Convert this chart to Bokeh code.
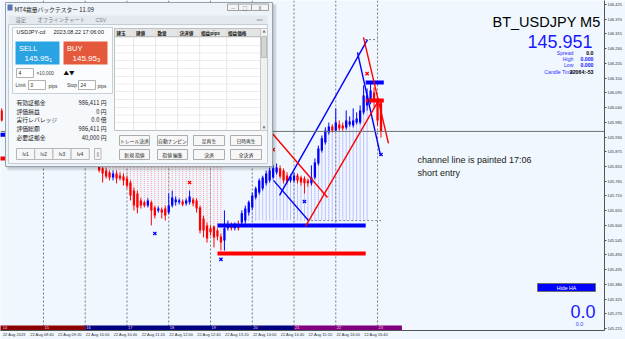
from bokeh.plotting import figure
from bokeh.models import (Range1d, LinearAxis, FixedTicker, PrintfTickFormatter, Span,
                          Label, BoxAnnotation, ColumnDataSource)
from bokeh.core.properties import value
from bokeh.embed import file_html
from bokeh.resources import INLINE

# ---------------- data (22 Aug 2023, USDJPY M5; time = minutes after 00:00) ----------------
bar_time = [480] + list(range(620, 1030, 5))
bar_open = [146.029,
    145.831, 145.813, 145.805, 145.798, 145.779, 145.794, 145.786, 145.783, 145.775, 145.760,
    145.730, 145.719, 145.693, 145.686, 145.674, 145.686, 145.667, 145.656, 145.659, 145.663,
    145.648, 145.674, 145.686, 145.686, 145.689, 145.682, 145.686, 145.697, 145.693, 145.667,
    145.626, 145.600, 145.589, 145.596, 145.581, 145.559, 145.544, 145.589, 145.596, 145.589,
    145.600, 145.611, 145.618, 145.648, 145.667, 145.704, 145.723, 145.738, 145.757, 145.768,
    145.779, 145.798, 145.813, 145.805, 145.786, 145.768, 145.768, 145.786, 145.779, 145.775,
    145.768, 145.757, 145.779, 145.831, 145.880, 145.910, 145.947, 145.969, 145.954, 145.977,
    145.973, 145.966, 145.977, 145.973, 145.984, 145.984, 146.022, 146.048, 146.066, 146.096,
    146.074, 146.059]
bar_high = [146.037,
    145.835, 145.824, 145.816, 145.805, 145.805, 145.805, 145.798, 145.794, 145.786, 145.768,
    145.742, 145.730, 145.704, 145.693, 145.701, 145.693, 145.674, 145.671, 145.667, 145.674,
    145.719, 145.730, 145.708, 145.701, 145.697, 145.701, 145.730, 145.704, 145.701, 145.674,
    145.637, 145.611, 145.600, 145.600, 145.589, 145.570, 145.656, 145.618, 145.611, 145.611,
    145.618, 145.656, 145.674, 145.693, 145.723, 145.745, 145.775, 145.786, 145.805, 145.816,
    145.824, 145.831, 145.824, 145.813, 145.798, 145.790, 145.798, 145.794, 145.786, 145.783,
    145.775, 145.824, 145.850, 145.898, 145.936, 145.966, 145.984, 145.977, 146.037, 145.992,
    145.984, 146.029, 146.007, 146.037, 146.022, 146.048, 146.123, 146.111, 146.130, 146.115,
    146.081, 146.066]
bar_low = [145.988,
    145.798, 145.760, 145.775, 145.768, 145.768, 145.757, 145.768, 145.749, 145.738, 145.693,
    145.656, 145.645, 145.663, 145.667, 145.667, 145.600, 145.626, 145.648, 145.626, 145.618,
    145.641, 145.667, 145.674, 145.678, 145.671, 145.674, 145.678, 145.671, 145.648, 145.570,
    145.555, 145.536, 145.562, 145.518, 145.544, 145.506, 145.506, 145.581, 145.581, 145.581,
    145.581, 145.600, 145.607, 145.637, 145.659, 145.697, 145.715, 145.730, 145.749, 145.760,
    145.772, 145.790, 145.775, 145.757, 145.753, 145.760, 145.760, 145.757, 145.749, 145.719,
    145.745, 145.749, 145.772, 145.824, 145.872, 145.902, 145.939, 145.947, 145.951, 145.954,
    145.954, 145.958, 145.969, 145.966, 145.977, 145.977, 146.014, 146.029, 146.052, 146.040,
    145.973, 145.928]
bar_close = [145.992,
    145.805, 145.794, 145.783, 145.779, 145.794, 145.775, 145.775, 145.768, 145.749, 145.712,
    145.674, 145.667, 145.674, 145.674, 145.693, 145.656, 145.637, 145.663, 145.648, 145.637,
    145.674, 145.704, 145.697, 145.693, 145.678, 145.693, 145.708, 145.682, 145.663, 145.581,
    145.581, 145.551, 145.574, 145.555, 145.559, 145.536, 145.589, 145.596, 145.589, 145.600,
    145.589, 145.645, 145.663, 145.686, 145.712, 145.738, 145.768, 145.779, 145.794, 145.805,
    145.813, 145.816, 145.783, 145.768, 145.764, 145.783, 145.786, 145.768, 145.760, 145.757,
    145.757, 145.779, 145.835, 145.887, 145.925, 145.954, 145.969, 145.954, 145.984, 145.962,
    145.962, 145.992, 145.988, 145.992, 145.999, 146.029, 146.085, 146.085, 146.104, 146.066,
    145.992, 145.951]

sell_zone_top = 145.900       # red dotted zone: from this level down to bar highs
buy_zone_floor = 145.618      # blue dotted zone: from bar lows down to this level

signal_time = [700, 750, 795, 870, 915, 1005, 1025]
signal_price = [145.570, 145.760, 145.473, 145.883, 145.689, 146.167, 145.865]
signal_side = ["buy", "sell", "buy", "sell", "buy", "sell", "buy"]

trend_t0 = [879.2, 991.2, 870.5, 916.5, 999.8, 859.0]
trend_p0 = [145.712, 146.246, 145.768, 145.596, 146.302, 145.973]
trend_t1 = [1005.6, 1024.3, 920.8, 1021.4, 1035.7, 948.1]
trend_p1 = [146.294, 145.861, 145.618, 146.066, 145.906, 145.704]
trend_side = ["buy", "buy", "buy", "sell", "sell", "sell"]

level_t0 = [790, 790, 1003, 1003, 470, 470]
level_t1 = [1003, 1003, 1029, 1029, 490, 487]
level_p = [145.600, 145.495, 146.134, 146.066, 145.939, 145.850]
level_side = ["buy", "sell", "buy", "sell", "buy", "sell"]

box_t0 = [1002, 919]
box_t1 = [1020, 1025]
box_p = [146.294, 145.618]

current_price = 145.951

session_start = [470, 600, 900]
session_end = [600, 900, 1055]
session_colors = ["#8b0000", "#000080", "#800080"]
hour_time = [480, 540, 600, 660, 720, 780, 840, 900, 960, 1020]
hour_labels = ["14", "15", "16", "17", "18", "19", "20", "21", "22", "23"]
separator_time = [540, 600, 660, 720, 780, 840, 900, 960, 1020]

price_ticks = [145.215, 145.270, 145.325, 145.380, 145.435, 145.490, 145.545, 145.600,
               145.655, 145.710, 145.765, 145.820, 145.875, 145.930, 145.985, 146.040,
               146.095, 146.150, 146.205, 146.260, 146.315, 146.370, 146.425]
time_ticks = [480, 520, 560, 600, 640, 680, 720, 760, 800, 840, 880, 920, 960, 1000]
time_labels = ["22 Aug 2023", "22 Aug 08:40", "22 Aug 09:20", "22 Aug 10:00", "22 Aug 10:40",
               "22 Aug 11:20", "22 Aug 12:00", "22 Aug 12:40", "22 Aug 13:20", "22 Aug 14:00",
               "22 Aug 14:40", "22 Aug 15:20", "22 Aug 16:00", "22 Aug 16:40"]

# ---------------- figure ----------------
BG = "#f0f7fe"
BLUE = "#0000ff"
RED = "#ff0000"
side_color = {"buy": BLUE, "sell": RED}

p = figure(width=625, height=339, x_range=Range1d(478.28, 1346.1), y_range=Range1d(145.2075, 146.4399),
           output_backend="svg", toolbar_location=None, x_axis_type=None, y_axis_type=None,
           min_border_left=0, min_border_top=0, min_border_right=21, min_border_bottom=9,
           background_fill_color=BG, border_fill_color=BG, outline_line_color=None)

yax = LinearAxis(ticker=FixedTicker(ticks=price_ticks), formatter=PrintfTickFormatter(format="%.3f"),
                 major_label_text_font_size="4px", major_label_text_font="Liberation Sans",
                 major_label_text_color="#333333", major_tick_out=2, major_tick_in=0,
                 minor_tick_out=0, minor_tick_in=0, major_label_standoff=1,
                 axis_line_color="#555555", major_tick_line_color="#555555")
p.add_layout(yax, "right")

LABEL_SHIFT = 18  # MT4 writes the time label to the right of its tick
xax = LinearAxis(ticker=FixedTicker(ticks=[t + LABEL_SHIFT for t in time_ticks]),
                 major_label_overrides={t + LABEL_SHIFT: s for t, s in zip(time_ticks, time_labels)},
                 major_label_text_font_size="4px", major_label_text_font="Liberation Sans",
                 major_label_text_color="#333333", major_tick_out=0, major_tick_in=0,
                 minor_tick_out=0, minor_tick_in=0, major_label_standoff=1,
                 axis_line_color="#555555")
p.add_layout(xax, "below")

for t in separator_time:
    p.add_layout(Span(location=t, dimension="height", line_color="#7a7a7a", line_dash="2 2",
                      line_width=1, level="underlay"))

# dotted zones
sell_idx = list(range(1, 37))
buy_idx = list(range(41, 79))
p.segment(x0=[bar_time[i] for i in sell_idx], y0=[sell_zone_top] * len(sell_idx),
          x1=[bar_time[i] for i in sell_idx], y1=[bar_high[i] for i in sell_idx],
          line_color="#ff7070", line_dash="1 1", line_width=1, line_alpha=0.65)
p.segment(x0=[bar_time[i] for i in buy_idx], y0=[bar_low[i] for i in buy_idx],
          x1=[bar_time[i] for i in buy_idx], y1=[buy_zone_floor] * len(buy_idx),
          line_color="#6a6aff", line_dash="1 1", line_width=1, line_alpha=0.75)
p.segment(x0=box_t0, y0=box_p, x1=box_t1, y1=box_p, line_color="#808080", line_dash="2 2", line_width=1)

# candles
colors = [BLUE if c >= o else RED for o, c in zip(bar_open, bar_close)]
src = ColumnDataSource(dict(t=bar_time, h=bar_high, l=bar_low,
                            top=[max(o, c) for o, c in zip(bar_open, bar_close)],
                            bot=[min(o, c) for o, c in zip(bar_open, bar_close)], col=colors))
p.segment(x0="t", y0="h", x1="t", y1="l", line_color="col", line_width=1, source=src)
p.vbar(x="t", width=3.3, top="top", bottom="bot", fill_color="col", line_color=None, source=src)

# level lines, trend lines, signals
p.segment(x0=level_t0, y0=level_p, x1=level_t1, y1=level_p,
          line_color=[side_color[s] for s in level_side], line_width=4, line_cap="butt")
p.segment(x0=trend_t0, y0=trend_p0, x1=trend_t1, y1=trend_p1,
          line_color=[side_color[s] for s in trend_side], line_width=1.4)
p.scatter(signal_time, signal_price, marker="x", size=4.5, line_width=1.3,
          line_color=[side_color[s] for s in signal_side])

p.add_layout(Span(location=current_price, dimension="width", line_color="#707070", line_width=1))

# session band
p.quad(left=session_start, right=session_end, bottom=145.2075, top=145.2263,
       fill_color=session_colors, line_color=None)
p.text(x=hour_time, y=[145.2169] * len(hour_time), text=hour_labels, x_offset=1,
       text_font_size="4px", text_color="#ffd0e0", text_baseline="middle",
       text_font=value("Liberation Sans"))

# ---------------- overlays (screen pixels, top-left origin) ----------------
FH = 330


def sy(y):
    return FH - y


def box(x0, y0, x1, y1, fill, line=None, alpha=1.0, lw=1):
    p.add_layout(BoxAnnotation(left=x0, right=x1, top=sy(y0), bottom=sy(y1),
                               left_units="screen", right_units="screen",
                               top_units="screen", bottom_units="screen",
                               fill_color=fill if fill else "#ffffff", fill_alpha=alpha if fill else 0,
                               line_color=line if line else "#000000", line_alpha=1 if line else 0,
                               line_width=lw))


def txt(x, y, s, size, color="#222222", align="left", font="Noto Sans CJK JP",
        style="normal", bg=None):
    kw = {}
    if bg:
        kw = dict(background_fill_color=bg, background_fill_alpha=1)
    p.add_layout(Label(x=x, y=sy(y), x_units="screen", y_units="screen", text=s,
                       text_font_size=f"{size}px", text_color=color, text_align=align,
                       text_baseline="middle", text_font=font, text_font_style=style, **kw))


SANS = "Liberation Sans"
# right side info (y = vertical centre of the text)
txt(600, 21.3, "BT_USDJPY M5", 14.5, "#000000", "right", SANS)
txt(592, 41, "145.951", 18, "#1a1aff", "right", SANS)
for yy, lab, val, vcol in [(52, "Spread", "0.0", "#000000"), (58.4, "High", "0.000", "#2020ff"),
                           (64.8, "Low", "0.000", "#2020ff"), (71.3, "Candle Time", "22064:-53", "#000000")]:
    txt(573, yy, lab, 5.2, "#3030ff", "right", SANS)
    txt(593, yy, val, 5.2, vcol, "right", SANS, "bold")
txt(417, 159.3, "channel line is painted 17:06", 9, "#1a1a1a", "left", SANS)
txt(417, 172.8, "short entry", 9, "#1a1a1a", "left", SANS)
box(537, 283, 595, 291, BLUE, "#707070")
txt(566, 287, "Hide HA", 5.2, "#ffffff", "center", SANS)
txt(595, 310.5, "0.0", 18, "#1a1aff", "right", SANS)
txt(579, 323, "0.0", 5.5, "#4040ff", "center", SANS)
txt(605, 131.5, "145.951", 4, "#ffffff", "left", SANS, bg="#000000")

# backtester window
box(7, 4, 276, 170, "#000000", None, 0.10)
box(6, 3, 274, 168, "#000000", None, 0.10)
box(5, 2, 272, 166, "#eef3f9", "#98a2ac")
box(7, 4, 12, 10, "#5577aa", None)
txt(14, 8.5, "MT4裁量バックテスター   11.09", 5.8, "#222222")
for x0, x1, g in [(227, 238, "—"), (238, 251, "□"), (251, 268, "X")]:
    box(x0, 3.5, x1, 10, "#f2f4f6", "#a0a0a0")
    txt((x0 + x1) / 2, 7, g, 4.5, "#555555", "center")
box(8, 15, 267, 23.5, "#e3e9ef", None)
txt(15, 19.5, "設定", 5.3, "#808080")
txt(37, 19.5, "オフラインチャート", 5.3, "#808080")
txt(95, 19.5, "CSV", 5.3, "#808080", font=SANS)
txt(259, 19.5, "size", 3.5, "#808080", "center", font=SANS)
box(8, 24, 267, 163, "#f6f9fc", "#c4ccd4")
box(12, 27, 112, 93, "#fafcfe", "#c8d0d8")
txt(16, 31.5, "USDJPY-cd", 5.5, "#222222", font=SANS)
txt(53, 31.5, "2023.08.22 17:06:00", 5.5, "#222222", font=SANS)
box(15, 41, 59, 64, "#2aa3e3", None)
box(63, 41, 107, 64, "#e4593b", None)
txt(18.5, 47.5, "SELL", 7.5, "#ffffff", font=SANS)
txt(24, 58, "145.95", 8, "#ffffff", font=SANS)
txt(48.5, 59, "1", 5.5, "#ffffff", font=SANS)
txt(66.5, 47.5, "BUY", 7.5, "#ffffff", font=SANS)
txt(72, 58, "145.95", 8, "#ffffff", font=SANS)
txt(96.5, 59, "3", 5.5, "#ffffff", font=SANS)
box(16, 68, 33, 77, "#ffffff", "#b0b0b0")
txt(18, 72.5, "4", 5, "#222222", font=SANS)
txt(36, 72.5, "×10,000", 4.8, "#444444", font=SANS)
txt(63, 72.5, "▲▼", 5.5, "#111111")
txt(15, 85, "Limit", 4.8, "#333333", font=SANS)
box(28, 80, 45, 89, "#ffffff", "#b0b0b0")
txt(30, 84.5, "0", 4.8, "#222222", font=SANS)
txt(48, 85.5, "pips", 4.8, "#333333", font=SANS)
txt(66.5, 85, "Stop", 4.8, "#333333", font=SANS)
box(78, 80, 95, 89, "#ffffff", "#b0b0b0")
txt(80, 84.5, "24", 4.8, "#222222", font=SANS)
txt(97, 85.5, "pips", 4.8, "#333333", font=SANS)
for yy, lab, val in [(102, "有効証拠金", "986,411 円"), (110.7, "評価損益", "0 円"),
                     (119.3, "実行レバレッジ", "0.0 倍"), (127.8, "評価総額", "986,411 円"),
                     (136.5, "必要証拠金", "40,000 円")]:
    txt(16, yy, lab, 5.8, "#222222")
    txt(106, yy, val, 5.8, "#222222", "right")
for i, lab in enumerate(["lv1", "lv2", "lv3", "lv4"]):
    x0 = 16 + i * 18.2
    box(x0, 148, x0 + 18.2, 159, "#f5f6f7", "#b8b8b8")
    txt(x0 + 9.1, 153.5, lab, 5, "#333333", "center", font=SANS)
box(94, 148, 100.5, 159, "#f5f6f7", "#b8b8b8")
txt(97.3, 153.5, "||", 4.5, "#555555", "center", font=SANS)
# position grid
box(114, 28, 260, 130, "#ffffff", "#c0c0c0")
box(114, 28, 260, 36, "#e4e4e4", "#c0c0c0")
for xx, lab in [(116, "建玉"), (135.5, "建値"), (157, "数量"), (179, "決済値"), (200.5, "損益pips"), (227.5, "損益価格")]:
    txt(xx, 32, lab, 4.6, "#222222", style="bold")
for xx in [133, 155, 177, 199, 226]:
    box(xx, 28, xx + 0.6, 130, "#d6d6d6", None)
for k in range(12):
    yy = 36.7 + k * 7.75
    box(114, yy, 260, yy + 0.6, "#dcdcdc", None)
box(260, 28, 267, 130, "#f0f0f0", "#c8c8c8")
box(261, 36, 266, 57, "#d4d4d4", "#bdbdbd")
txt(263.5, 31, "▲", 3, "#666666", "center")
txt(263.5, 127, "▼", 3, "#666666", "center")
for row, labs in [(135, ["トレール決済", "自動ナンピン", "足再生", "日時再生"]),
                  (149, ["新規 指値", "指値 編集", "決済", "全決済"])]:
    for (x0, x1), lab in zip([(119, 149), (157, 187), (193, 224), (230, 261)], labs):
        box(x0, row, x1, row + 10, "#f7f7f7", "#adadad")
        txt((x0 + x1) / 2, row + 5, lab, 4.8, "#222222", "center")

open("out.html", "w").write(file_html(p, INLINE))
